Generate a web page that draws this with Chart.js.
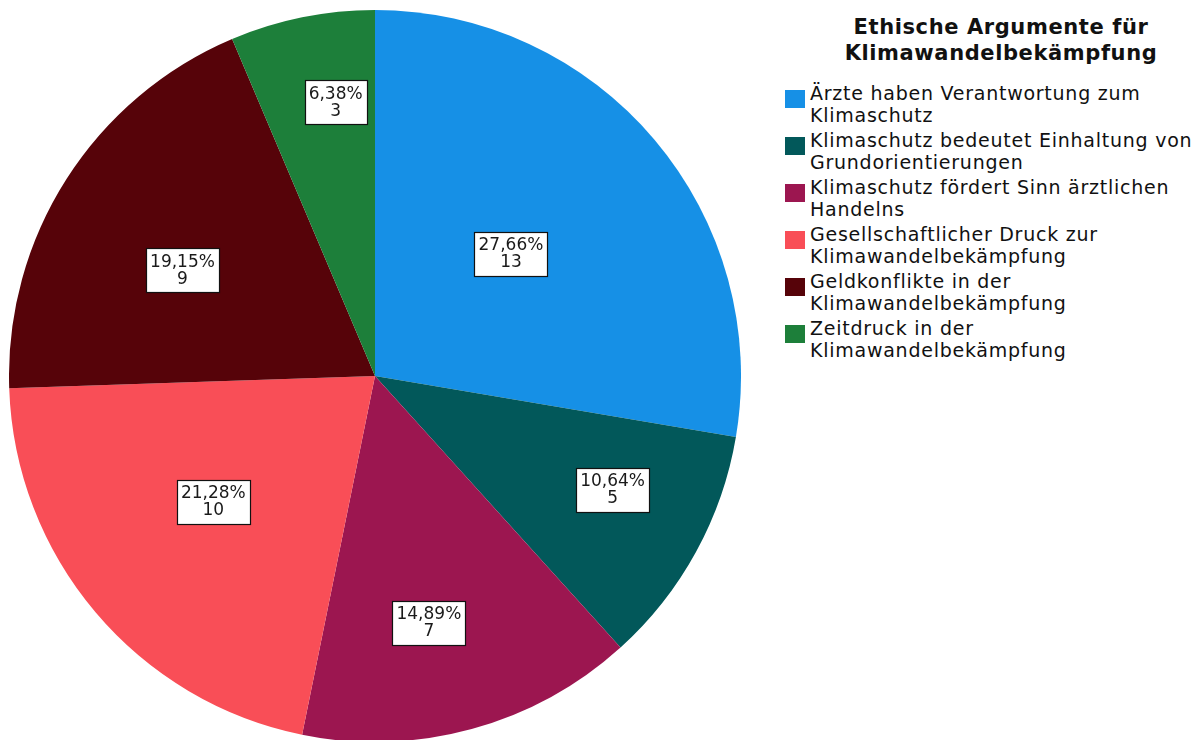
<!DOCTYPE html>
<html>
<head>
<meta charset="utf-8">
<script src="https://cdn.jsdelivr.net/npm/chart.js@4"></script>
<style>
  html, body { margin: 0; padding: 0; background: #fff; width: 1202px; height: 740px; overflow: hidden; }
  #pieBox { position: absolute; left: 9px; top: 10px; width: 732px; height: 732px; }
  #legend { position: absolute; left: 785px; top: 14px; width: 417px; font-family: "DejaVu Sans", sans-serif; color: #111; }
  #legend h2 { margin: 0 0 16px 0; width: 432px; text-align: center; font-size: 21px; line-height: 26px; font-weight: bold; letter-spacing: 0.6px; }
  .item { display: flex; align-items: flex-start; height: 47px; }
  .swatch { width: 20px; height: 18px; margin-top: 8px; margin-right: 5px; flex: none; }
  .txt { font-size: 19px; line-height: 22px; letter-spacing: 0.75px; white-space: nowrap; }
</style>
</head>
<body>
<div id="pieBox"><canvas id="pie"></canvas></div>
<div id="legend"></div>
<script>
//categories and values
const categories = [
  ['Ärzte haben Verantwortung zum', 'Klimaschutz'],
  ['Klimaschutz bedeutet Einhaltung von', 'Grundorientierungen'],
  ['Klimaschutz fördert Sinn ärztlichen', 'Handelns'],
  ['Gesellschaftlicher Druck zur', 'Klimawandelbekämpfung'],
  ['Geldkonflikte in der', 'Klimawandelbekämpfung'],
  ['Zeitdruck in der', 'Klimawandelbekämpfung']
];
const counts = [13, 5, 7, 10, 9, 3];
const percentLabels = ['27,66%', '10,64%', '14,89%', '21,28%', '19,15%', '6,38%'];
const colors = ['#1690e6', '#02585a', '#9c1650', '#f94e57', '#560309', '#1d7f3a'];
const legendTitle = ['Ethische Argumente für', 'Klimawandelbekämpfung'];

//where the value boxes sit: share of the radius, and turn off the slice middle (deg)
const labelRadius = [0.50, 0.72, 0.69, 0.56, 0.60, 0.755];
const labelTurn = [-1.8, -3.1, 3.0, 2.3, -3.8, 3.3];

//white boxes with percent and count
const boxLabels = {
  id: 'boxLabels',
  afterDatasetsDraw(chart) {
    const ctx = chart.ctx;
    const meta = chart.getDatasetMeta(0);
    ctx.save();
    ctx.font = '17px "DejaVu Sans", sans-serif';
    ctx.textAlign = 'center';
    ctx.textBaseline = 'middle';
    meta.data.forEach((arc, i) => {
      const p = arc.getProps(['x', 'y', 'startAngle', 'endAngle', 'outerRadius'], true);
      const mid = (p.startAngle + p.endAngle) / 2 + labelTurn[i] * Math.PI / 180;
      const r = p.outerRadius * labelRadius[i];
      const cx = p.x + Math.cos(mid) * r;
      const cy = p.y + Math.sin(mid) * r;
      const l1 = percentLabels[i], l2 = String(counts[i]);
      const w = Math.round(Math.max(ctx.measureText(l1).width, ctx.measureText(l2).width) + 8);
      const h = 44;
      const bx = Math.round(cx - w / 2) + 0.5, by = Math.round(cy - h / 2) + 0.5;
      ctx.fillStyle = '#fff';
      ctx.fillRect(bx, by, w, h);
      ctx.strokeStyle = '#111';
      ctx.lineWidth = 1.2;
      ctx.strokeRect(bx, by, w, h);
      ctx.fillStyle = '#1a1a1a';
      ctx.fillText(l1, cx, cy - 8);
      ctx.fillText(l2, cx, cy + 9);
    });
    ctx.restore();
  }
};

let pie = new Chart(document.getElementById('pie'), {
  type: 'pie',
  data: {
    labels: categories.map(c => c.join(' ')),
    datasets: [{
      data: counts,
      backgroundColor: colors,
      borderWidth: 0
    }]
  },
  options: {
    responsive: true,
    maintainAspectRatio: false,
    animation: false,
    layout: { padding: 0 },
    plugins: {
      legend: { display: false },
      tooltip: { enabled: false }
    }
  },
  plugins: [boxLabels]
});

//legend built as html so the labels can wrap
const legend = document.getElementById('legend');
let html = '<h2>' + legendTitle.join('<br>') + '</h2>';
categories.forEach((c, i) => {
  html += '<div class="item"><div class="swatch" style="background:' + colors[i] + '"></div>'
    + '<div class="txt">' + c.join('<br>') + '</div></div>';
});
legend.innerHTML = html;
</script>
</body>
</html>
